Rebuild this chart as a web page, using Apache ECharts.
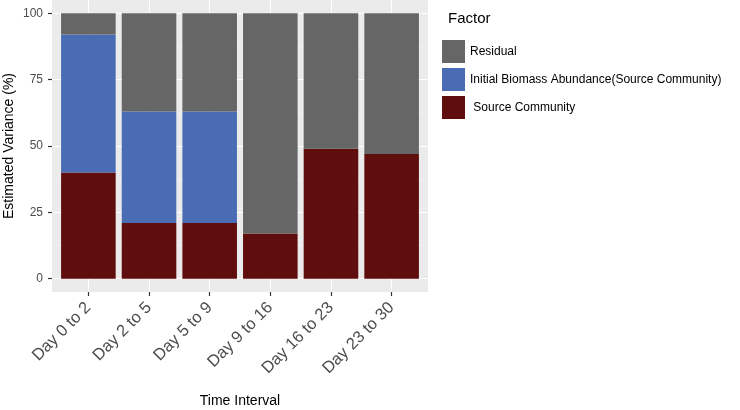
<!DOCTYPE html>
<html><head><meta charset="utf-8">
<script src="https://cdn.jsdelivr.net/npm/echarts@6/dist/echarts.min.js"></script>
<style>html,body{margin:0;padding:0;background:#fff}#c{width:740px;height:410px}</style>
</head><body><div id="c"></div>
<script>
const categories = ['Day 0 to 2','Day 2 to 5','Day 5 to 9','Day 9 to 16','Day 16 to 23','Day 23 to 30'];
const sourceCommunity = [40, 21, 21, 17, 49, 47];
const initialBiomass = [52, 42, 42, 0, 0, 0];
const residual = [8, 37, 37, 83, 51, 53];
const yTicks = [0, 25, 50, 75, 100];

const FONT = 'Liberation Sans, Arial, sans-serif';
const chart = echarts.init(document.getElementById('c'));
chart.setOption({
  animation: false,
  textStyle: {fontFamily: FONT},
  title: {text: 'Factor', left: 443, top: 6, textStyle: {fontSize: 15, fontWeight: 'normal', color: '#000', fontFamily: FONT}},
  legend: {
    orient: 'vertical', left: 437, top: 35, itemWidth: 23, itemHeight: 23, itemGap: 5,
    icon: 'rect',
    data: ['Residual', 'Initial Biomass Abundance(Source Community)', 'Source Community'],
    formatter: n => n === 'Source Community' ? ' ' + n : n,
    textStyle: {fontSize: 12, color: '#000', fontFamily: FONT}
  },
  grid: [
    {left: 52, right: 312, top: 0, bottom: 118, show: true, backgroundColor: '#EBEBEB', borderWidth: 0, containLabel: false, outerBoundsMode: 'none'},
    {left: 52, right: 312, top: 13.27, bottom: 131.27, show: false, containLabel: false, outerBoundsMode: 'none'},
    {left: 58.06, right: 318.06, top: 0, bottom: 118, show: false, containLabel: false, outerBoundsMode: 'none'}
  ],
  xAxis: [
    {gridIndex: 0, type: 'category', data: categories, show: false},
    {gridIndex: 1, type: 'category', data: categories, show: false},
    {gridIndex: 2, type: 'category', data: categories,
      axisLine: {show: true, onZero: false, lineStyle: {color: 'rgba(0,0,0,0)', width: 0}},
      axisTick: {show: true, alignWithLabel: true, length: 4, lineStyle: {color: '#333', width: 1.2}},
      splitLine: {show: true, alignWithLabel: true, lineStyle: {color: '#ffffff', width: 1.1}},
      axisLabel: {rotate: 45, fontSize: 16.5, color: '#4D4D4D', margin: 13, interval: 0, fontFamily: FONT},
      name: 'Time Interval', nameLocation: 'middle', nameGap: 102, nameMoveOverlap: false,
      nameTextStyle: {fontSize: 14, color: '#000', fontFamily: FONT}
    }
  ],
  yAxis: [
    {gridIndex: 0, type: 'value', show: false, splitLine: {show: false}},
    {gridIndex: 1, type: 'value', min: 0, max: 100, interval: 25,
      axisLine: {show: true, lineStyle: {color: 'rgba(0,0,0,0)', width: 0}},
      axisTick: {show: true, length: 4, lineStyle: {color: '#333', width: 1.2}},
      axisLabel: {fontSize: 12, color: '#4D4D4D', margin: 9, fontFamily: FONT,
        formatter: v => yTicks.includes(v) ? String(v) : ''},
      splitLine: {show: true, lineStyle: {color: '#fff', width: 1.1}},
      minorTick: {show: false, splitNumber: 2},
      minorSplitLine: {show: true, lineStyle: {color: '#F5F5F5', width: 0.6}},
      name: 'Estimated Variance (%)', nameLocation: 'middle', nameGap: 36, nameRotate: 90, nameMoveOverlap: false,
      nameTextStyle: {fontSize: 14, color: '#000', fontFamily: FONT}
    },
    {gridIndex: 2, type: 'value', min: -5, max: 105, show: false, splitLine: {show: false}}
  ],
  series: [
    {name: 'Source Community', type: 'bar', stack: 'v', xAxisIndex: 2, yAxisIndex: 2, data: sourceCommunity,
      barWidth: '90%', itemStyle: {color: '#5F0D0D'}},
    {name: 'Initial Biomass Abundance(Source Community)', type: 'bar', stack: 'v', xAxisIndex: 2, yAxisIndex: 2, data: initialBiomass,
      barWidth: '90%', itemStyle: {color: '#4A6CB5'}},
    {name: 'Residual', type: 'bar', stack: 'v', xAxisIndex: 2, yAxisIndex: 2, data: residual,
      barWidth: '90%', itemStyle: {color: '#666666'}}
  ]
});
</script></body></html>
